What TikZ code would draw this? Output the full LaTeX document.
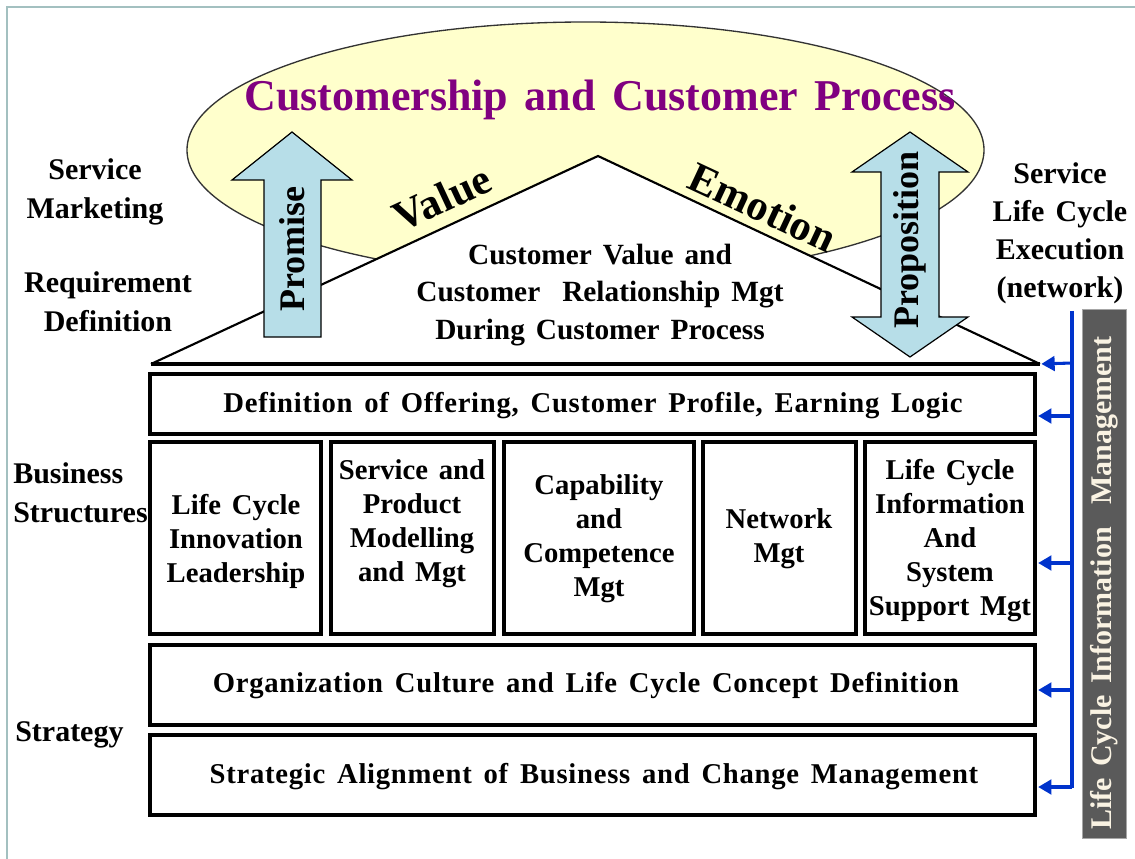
\documentclass[tikz,border=0pt]{standalone}
\usepackage{fontspec}
\setmainfont{Liberation Serif}[WordSpace=1.5]
\usetikzlibrary{shapes.geometric,arrows.meta,fit}
\definecolor{ellfill}{HTML}{FFFFCC}
\definecolor{arrfill}{HTML}{B7DEE8}
\definecolor{ttl}{HTML}{800080}
\definecolor{bus}{HTML}{0033CC}
\definecolor{framec}{HTML}{A3C0C0}
\definecolor{barfill}{HTML}{5A5A5A}
\definecolor{bartext}{HTML}{FAF3E3}
\begin{document}
\begin{tikzpicture}[x=0.75pt,y=-0.75pt,
 lbl/.style={font=\fontsize{22.5}{29}\selectfont\bfseries, align=center, inner sep=0pt},
 boxtxt/.style={font=\fontsize{21.5}{25.5}\selectfont\bfseries, align=center, inner sep=0pt},
 widetxt/.style={font=\fontsize{21.5}{25.5}\selectfont\bfseries\addfontfeature{LetterSpace=2.5}, align=center, inner sep=0pt},
 boxfr/.style={draw, line width=2.7pt, inner sep=0pt},
 bigarrow/.style={draw=black, line width=0.9pt, fill=arrfill, line join=miter},
 busline/.style={draw=bus, line width=2.3pt},
 busarrow/.style={draw=bus, line width=2.3pt, -{Triangle[length=10pt,width=11pt]}, shorten >=1pt},
]
\useasboundingbox (0,0) rectangle (1135,859);
% frame
\draw[framec, line width=2pt] (7,859) -- (7,7) -- (1135,7);
% ellipse
\node[ellipse, draw=black!80, line width=1pt, fill=ellfill, minimum width=597.75pt, minimum height=192pt, inner sep=0pt] (ell) at (585.5,150) {};
\node[font=\fontsize{33}{40}\selectfont\bfseries, text=ttl, inner sep=0pt] (title) at (600,100) {Customership and Customer Process};
% roof
\coordinate (rl) at (151,364);
\coordinate (apex) at (598,156);
\coordinate (rr) at (1040,364);
\fill[white] (rl) -- (apex) -- (rr) -- cycle;
\draw[line width=1.6pt, line join=miter] (rl) -- (apex) -- (rr);
\draw[line width=2.3pt] (rl) -- (rr);
\node[font=\fontsize{32}{36}\selectfont\bfseries, rotate=25, inner sep=0pt] (val) at (442,198) {Value};
\node[font=\fontsize{32}{36}\selectfont\bfseries, rotate=-25, inner sep=0pt] (emo) at (763,207) {Emotion};
\node[font=\fontsize{22}{28}\selectfont\bfseries, align=center, inner sep=0pt] (cv) at (600,295) {Customer Value and\\Customer\ \ Relationship Mgt\\During Customer Process};
% big arrows
\draw[bigarrow] (264,337) -- (264,180) -- (232,180) -- (292,132) -- (352,180) -- (321,180) -- (321,337) -- cycle;
\node[font=\fontsize{27}{30}\selectfont\bfseries, rotate=90, inner sep=0pt] (prom) at (292,249) {Promise};
\draw[bigarrow] (910,132) -- (968,172) -- (939,172) -- (939,317) -- (968,317) -- (910,357) -- (852,317) -- (881,317) -- (881,172) -- (852,172) -- cycle;
\node[font=\fontsize{27}{30}\selectfont\bfseries, rotate=90, inner sep=0pt] (prop) at (910,240) {Proposition};
% side labels
\node[lbl] (sm) at (95,192) {Service\\Marketing};
\node[lbl] (rd) at (108,302) {Requirement\\Definition};
\node[lbl, anchor=west, align=left] (bs) at (13,493) {Business\\Structures};
\node[lbl, anchor=west] (st) at (15,735) {Strategy};
\node[lbl, font=\fontsize{22.5}{28.5}\selectfont\bfseries] (slc) at (1060,233) {Service\\Life Cycle\\Execution\\(network)};
% boxes
\node[boxfr, fit={(150,374)(1035,434)}] (b1) {};
\node[boxfr, fit={(150,442)(321,634)}] (bA) {};
\node[boxfr, fit={(331,442)(494,634)}] (bB) {};
\node[boxfr, fit={(504,442)(694,634)}] (bC) {};
\node[boxfr, fit={(703,442)(856,634)}] (bD) {};
\node[boxfr, fit={(865,442)(1035,634)}] (bE) {};
\node[boxfr, fit={(150,645)(1035,725)}] (b3) {};
\node[boxfr, fit={(150,735)(1035,815)}] (b4) {};
\node[widetxt] (t1) at (593,406) {Definition of Offering, Customer Profile, Earning Logic};
\node[boxtxt] (tA) at (236,541) {Life Cycle\\Innovation\\Leadership};
\node[boxtxt] (tB) at (412,524) {Service and\\Product\\Modelling\\and Mgt};
\node[boxtxt] (tC) at (599,539) {Capability\\and\\Competence\\Mgt};
\node[boxtxt] (tD) at (779,539) {Network\\Mgt};
\node[boxtxt] (tE) at (950,541) {Life Cycle\\Information\\And\\System\\Support Mgt};
\node[widetxt] (t3) at (586,686) {Organization Culture and Life Cycle Concept Definition};
\node[widetxt] (t4) at (594,777) {Strategic Alignment of Business and Change Management};
% gray bar
\node[fill=barfill, draw=gray!70, line width=0.6pt, inner sep=0pt, fit={(1082,309)(1126,838)}] (bar) {};
\node[font=\fontsize{22.5}{24}\selectfont\bfseries, text=bartext, rotate=90, inner sep=0pt] (bartxt) at (1104,583) {Life Cycle Information\ \ Management};
% bus
\coordinate (bt) at (1072,311);
\coordinate (bb) at (1072,788);
\draw[busline] (bt) -- (bb);
\coordinate (a1) at (1072,363);
\coordinate (a2) at (1072,416);
\coordinate (a3) at (1072,563);
\coordinate (a4) at (1072,690);
\coordinate (a5) at (1072,787);
\draw[busarrow] (a1) -- (rr);
\draw[busarrow] (a2) -- (a2 -| b1.east);
\draw[busarrow] (a3) -- (a3 -| bE.east);
\draw[busarrow] (a4) -- (a4 -| b3.east);
\draw[busarrow] (a5) -- (a5 -| b4.east);
\end{tikzpicture}
\end{document}
